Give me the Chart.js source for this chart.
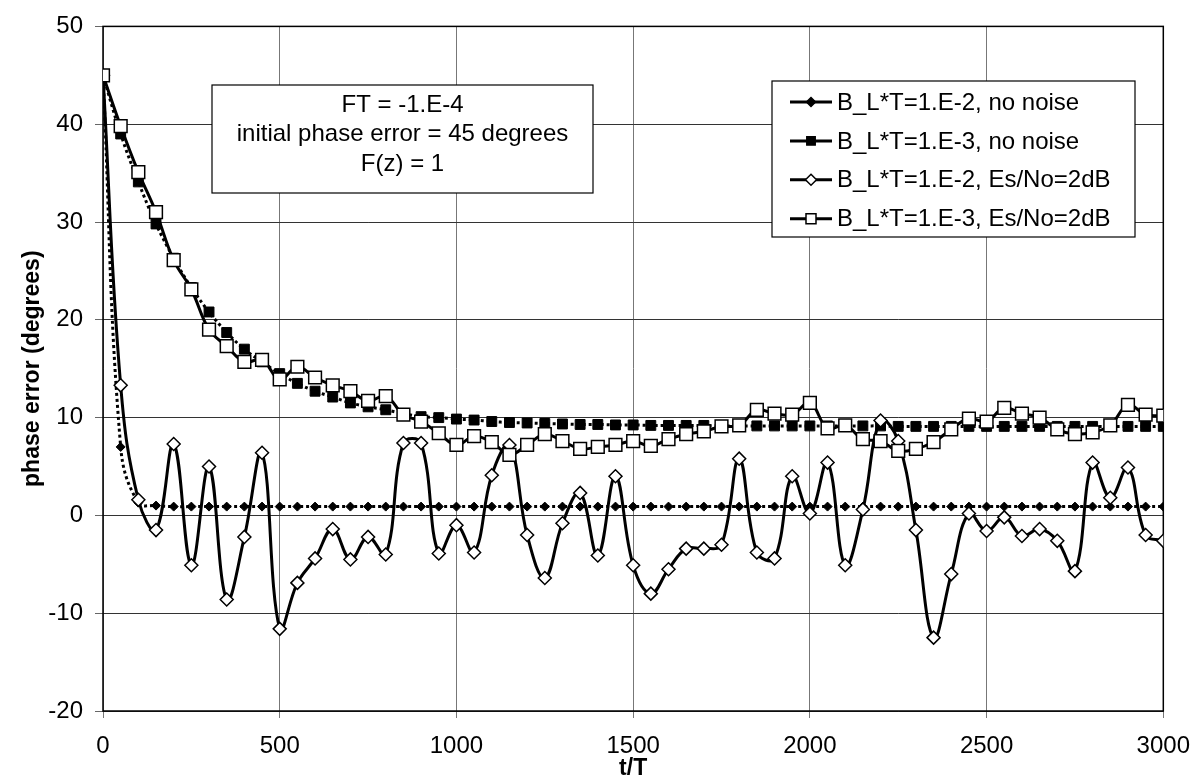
<!DOCTYPE html>
<html>
<head>
<meta charset="utf-8">
<title>phase error vs t/T</title>
<script src="https://cdn.jsdelivr.net/npm/chart.js@4.4.1/dist/chart.umd.min.js"></script>
<style>
  html, body { margin: 0; padding: 0; background: #fff; }
  #wrap { width: 1204px; height: 784px; }
</style>
</head>
<body>
<div id="wrap"><canvas id="phaseChart" width="1204" height="784"></canvas></div>
<script>
// sample instants (t/T)
const tValues = [
    0, 50, 100, 150, 200, 250, 300, 350, 400, 450,
    500, 550, 600, 650, 700, 750, 800, 850, 900, 950,
    1000, 1050, 1100, 1150, 1200, 1250, 1300, 1350, 1400, 1450,
    1500, 1550, 1600, 1650, 1700, 1750, 1800, 1850, 1900, 1950,
    2000, 2050, 2100, 2150, 2200, 2250, 2300, 2350, 2400, 2450,
    2500, 2550, 2600, 2650, 2700, 2750, 2800, 2850, 2900, 2950,
    3000
];

// B_L*T = 1.E-2, no noise
const wideNoNoise = [
    45, 7.0, 1.3, 1.0, 0.9, 0.9, 0.9, 0.9, 0.9, 0.9,
    0.9, 0.9, 0.9, 0.9, 0.9, 0.9, 0.9, 0.9, 0.9, 0.9,
    0.9, 0.9, 0.9, 0.9, 0.9, 0.9, 0.9, 0.9, 0.9, 0.9,
    0.9, 0.9, 0.9, 0.9, 0.9, 0.9, 0.9, 0.9, 0.9, 0.9,
    0.9, 0.9, 0.9, 0.9, 0.9, 0.9, 0.9, 0.9, 0.9, 0.9,
    0.9, 0.9, 0.9, 0.9, 0.9, 0.9, 0.9, 0.9, 0.9, 0.9,
    0.9
];

// B_L*T = 1.E-3, no noise
const narrowNoNoise = [
    45, 39.0, 34.1, 29.8, 26.3, 23.3, 20.8, 18.7, 17.0, 15.7,
    14.5, 13.5, 12.7, 12.1, 11.5, 11.1, 10.8, 10.4, 10.1, 10.0,
    9.85, 9.75, 9.6, 9.5, 9.45, 9.4, 9.35, 9.3, 9.3, 9.25,
    9.25, 9.2, 9.2, 9.2, 9.2, 9.15, 9.15, 9.15, 9.15, 9.15,
    9.15, 9.15, 9.15, 9.15, 9.15, 9.1, 9.1, 9.1, 9.1, 9.1,
    9.1, 9.1, 9.1, 9.1, 9.1, 9.1, 9.1, 9.1, 9.1, 9.1,
    9.1
];

// B_L*T = 1.E-2, Es/No = 2dB
const wideNoisy = [
    45, 13.3, 1.6, -1.5, 7.3, -5.1, 5.0, -8.6, -2.2, 6.4,
    -11.6, -6.9, -4.4, -1.4, -4.5, -2.2, -4.0, 7.4, 7.4, -3.9,
    -1.0, -3.8, 4.1, 7.2, -2.0, -6.4, -0.8, 2.3, -4.1, 4.0,
    -5.1, -8.0, -5.5, -3.4, -3.4, -3.0, 5.8, -3.8, -4.4, 4.0,
    0.2, 5.4, -5.1, 0.6, 9.7, 7.6, -1.5, -12.5, -6.0, 0.2,
    -1.6, -0.2, -2.1, -1.4, -2.6, -5.7, 5.4, 1.8, 4.9, -2.0,
    -2.6
];

// B_L*T = 1.E-3, Es/No = 2dB
const narrowNoisy = [
    45, 39.8, 35.1, 31.0, 26.1, 23.1, 19.0, 17.3, 15.7, 15.9,
    13.9, 15.2, 14.1, 13.3, 12.7, 11.7, 12.2, 10.3, 9.6, 8.4,
    7.2, 8.1, 7.5, 6.2, 7.2, 8.3, 7.6, 6.8, 7.0, 7.2,
    7.6, 7.1, 7.8, 8.3, 8.6, 9.1, 9.2, 10.8, 10.4, 10.3,
    11.5, 8.9, 9.2, 7.8, 7.6, 6.6, 6.8, 7.5, 8.8, 9.9,
    9.6, 11.0, 10.4, 10.0, 8.8, 8.3, 8.5, 9.2, 11.3, 10.3,
    10.2
];

const seriesLabels = [
    'B_L*T=1.E-2, no noise',
    'B_L*T=1.E-3, no noise',
    'B_L*T=1.E-2, Es/No=2dB',
    'B_L*T=1.E-3, Es/No=2dB'
];

const xTicks = [0, 500, 1000, 1500, 2000, 2500, 3000];
const yTicks = [-20, -10, 0, 10, 20, 30, 40, 50];
const noteLines = ['FT = -1.E-4', 'initial phase error = 45 degrees', 'F(z) = 1'];

const FONT = "'Liberation Sans', Arial, sans-serif";
Chart.defaults.font.family = FONT;
Chart.defaults.color = '#000';

function toPoints(values) {
    return tValues.map((t, i) => ({ x: t, y: values[i] }));
}

// small marker for the legend rows
function drawMarker(ctx, style, x, y, r, filled) {
    ctx.beginPath();
    if (style === 'rectRot') {
        ctx.moveTo(x, y - r);
        ctx.lineTo(x + r, y);
        ctx.lineTo(x, y + r);
        ctx.lineTo(x - r, y);
        ctx.closePath();
    } else {
        ctx.rect(x - r, y - r, 2 * r, 2 * r);
    }
    ctx.fillStyle = filled ? '#000' : '#fff';
    ctx.fill();
    ctx.lineWidth = 1.5;
    ctx.strokeStyle = '#000';
    ctx.stroke();
}

const boxesPlugin = {
    id: 'boxes',
    beforeDatasetsDraw(chart) {
        const { ctx, chartArea: a } = chart;
        ctx.save();
        ctx.strokeStyle = '#000';
        ctx.lineWidth = 1.5;
        ctx.strokeRect(a.left, a.top, a.right - a.left, a.bottom - a.top);
        ctx.restore();
    },
    afterDraw(chart) {
        const ctx = chart.ctx;
        ctx.save();

        // text box
        ctx.fillStyle = '#fff';
        ctx.fillRect(212, 85, 381, 108);
        ctx.strokeStyle = '#000';
        ctx.lineWidth = 1.2;
        ctx.strokeRect(212, 85, 381, 108);
        ctx.fillStyle = '#000';
        ctx.font = '24px ' + FONT;
        ctx.textAlign = 'center';
        ctx.textBaseline = 'middle';
        noteLines.forEach((line, i) => ctx.fillText(line, 402.5, 105 + i * 29.6));

        // legend
        ctx.fillStyle = '#fff';
        ctx.fillRect(772, 81, 363, 156);
        ctx.strokeStyle = '#000';
        ctx.lineWidth = 1.2;
        ctx.strokeRect(772, 81, 363, 156);
        const markerSize = [4.5, 4.2, 5.5, 5];
        chart.data.datasets.forEach((ds, i) => {
            const y = 102 + i * 38.9;
            ctx.strokeStyle = '#000';
            ctx.lineWidth = 3;
            ctx.setLineDash([]);
            ctx.beginPath();
            ctx.moveTo(790, y);
            ctx.lineTo(832, y);
            ctx.stroke();
            drawMarker(ctx, ds.pointStyle, 811, y, markerSize[i], ds.pointBackgroundColor === '#000');
            ctx.fillStyle = '#000';
            ctx.font = '24px ' + FONT;
            ctx.textAlign = 'left';
            ctx.textBaseline = 'middle';
            ctx.fillText(ds.label, 837, y + 1);
        });
        ctx.restore();
    }
};

new Chart(document.getElementById('phaseChart'), {
    type: 'line',
    data: {
        datasets: [
            {
                label: seriesLabels[0],
                data: toPoints(wideNoNoise),
                borderColor: '#000',
                borderWidth: 3,
                borderDash: [3, 3],
                pointStyle: 'rectRot',
                pointRadius: 4.5,
                pointBackgroundColor: '#000',
                pointBorderColor: '#000',
                pointBorderWidth: 1,
                tension: 0.4,
                order: 3
            },
            {
                label: seriesLabels[1],
                data: toPoints(narrowNoNoise),
                borderColor: '#000',
                borderWidth: 3,
                borderDash: [3, 3],
                pointStyle: 'rect',
                pointRadius: 7,
                pointBackgroundColor: '#000',
                pointBorderColor: '#000',
                pointBorderWidth: 1,
                tension: 0.4,
                order: 2
            },
            {
                label: seriesLabels[2],
                data: toPoints(wideNoisy),
                borderColor: '#000',
                borderWidth: 3,
                pointStyle: 'rectRot',
                pointRadius: 6.5,
                pointBackgroundColor: '#fff',
                pointBorderColor: '#000',
                pointBorderWidth: 1.5,
                tension: 0.4,
                order: 1
            },
            {
                label: seriesLabels[3],
                data: toPoints(narrowNoisy),
                borderColor: '#000',
                borderWidth: 3,
                pointStyle: 'rect',
                pointRadius: 9,
                pointBackgroundColor: '#fff',
                pointBorderColor: '#000',
                pointBorderWidth: 1.5,
                tension: 0.4,
                order: 0
            }
        ]
    },
    options: {
        responsive: false,
        animation: false,
        events: [],
        layout: { padding: { top: 18, right: 38, bottom: 0, left: 0 } },
        plugins: {
            legend: { display: false },
            tooltip: { enabled: false }
        },
        scales: {
            x: {
                type: 'linear',
                min: 0,
                max: 3000,
                afterBuildTicks: s => { s.ticks = xTicks.map(v => ({ value: v })); },
                afterFit: s => { s.height = 73; },
                grid: { color: '#777', lineWidth: 1, tickLength: 7, tickColor: '#777' },
                border: { display: false },
                ticks: { font: { size: 24 }, color: '#000', padding: 14, maxRotation: 0, callback: v => String(v) },
                title: {
                    display: true,
                    text: 't/T',
                    color: '#000',
                    font: { size: 23, weight: 'bold' },
                    padding: { top: 0, bottom: 2 }
                }
            },
            y: {
                min: -20,
                max: 50,
                afterBuildTicks: s => { s.ticks = yTicks.map(v => ({ value: v })); },
                afterFit: s => { s.width = 103; },
                grid: { color: '#333', lineWidth: 1, tickLength: 8, tickColor: '#666' },
                border: { display: false },
                ticks: { font: { size: 24 }, color: '#000', padding: 12, callback: v => String(v) },
                title: {
                    display: true,
                    text: 'phase error (degrees)',
                    color: '#000',
                    font: { size: 23, weight: 'bold' },
                    padding: { top: 19, bottom: 0 }
                }
            }
        }
    },
    plugins: [boxesPlugin]
});
</script>
</body>
</html>
